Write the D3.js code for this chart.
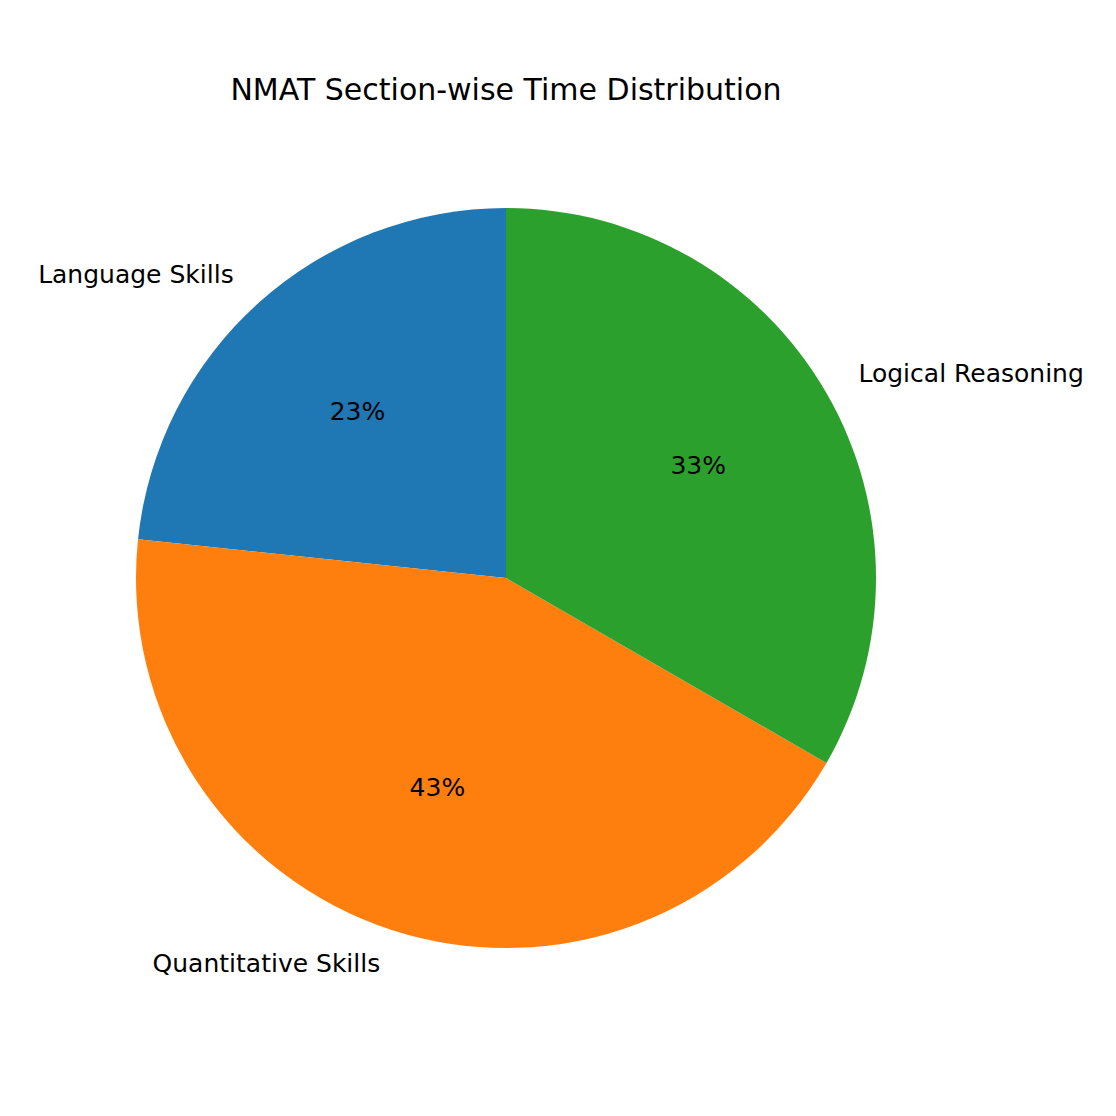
<!DOCTYPE html>
<html>
<head>
<meta charset="utf-8">
<script src="https://cdn.jsdelivr.net/npm/d3@7"></script>
<style>
  body { margin: 0; background: white; }
  text { font-family: "DejaVu Sans", sans-serif; }
</style>
</head>
<body>
<div id="chart"></div>
<script>
// data
var sections = ["Language Skills", "Quantitative Skills", "Logical Reasoning"];
var minutes = [28, 52, 40];
var colours = ["#1f77b4", "#ff7f0e", "#2ca02c"];

var width = 1116, height = 1116;
var cx = 506, cy = 578, radius = 370;

var svg = d3.select("#chart")
    .append("svg")
    .attr("width", width)
    .attr("height", height);

svg.append("text")
    .attr("x", cx)
    .attr("y", 91)
    .attr("text-anchor", "middle")
    .attr("dominant-baseline", "middle")
    .attr("font-size", "30px")
    .text("NMAT Section-wise Time Distribution");

var total = d3.sum(minutes);

// counter-clockwise from the top, like matplotlib startangle=90
var pie = d3.pie()
    .sort(null)
    .startAngle(0)
    .endAngle(-2 * Math.PI);

var arcs = pie(minutes);

var arc = d3.arc().innerRadius(0).outerRadius(radius);

var g = svg.append("g")
    .attr("transform", "translate(" + cx + "," + cy + ")");

g.selectAll("path")
    .data(arcs)
    .join("path")
    .attr("d", arc)
    .attr("fill", function(d, i) { return colours[i]; });

function midPoint(d, r) {
  var a = (d.startAngle + d.endAngle) / 2;
  return [Math.sin(a) * r, -Math.cos(a) * r];
}

// outer labels
g.selectAll(".label")
    .data(arcs)
    .join("text")
    .attr("class", "label")
    .attr("x", function(d) { return midPoint(d, radius * 1.1)[0]; })
    .attr("y", function(d) { return midPoint(d, radius * 1.1)[1]; })
    .attr("text-anchor", function(d) { return midPoint(d, 1)[0] > 0 ? "start" : "end"; })
    .attr("dominant-baseline", "middle")
    .attr("font-size", "25px")
    .text(function(d, i) { return sections[i]; });

// percentages
g.selectAll(".pct")
    .data(arcs)
    .join("text")
    .attr("class", "pct")
    .attr("x", function(d) { return midPoint(d, radius * 0.6)[0]; })
    .attr("y", function(d) { return midPoint(d, radius * 0.6)[1]; })
    .attr("text-anchor", "middle")
    .attr("dominant-baseline", "middle")
    .attr("font-size", "25px")
    .text(function(d) { return Math.round(d.value / total * 100) + "%"; });
</script>
</body>
</html>
